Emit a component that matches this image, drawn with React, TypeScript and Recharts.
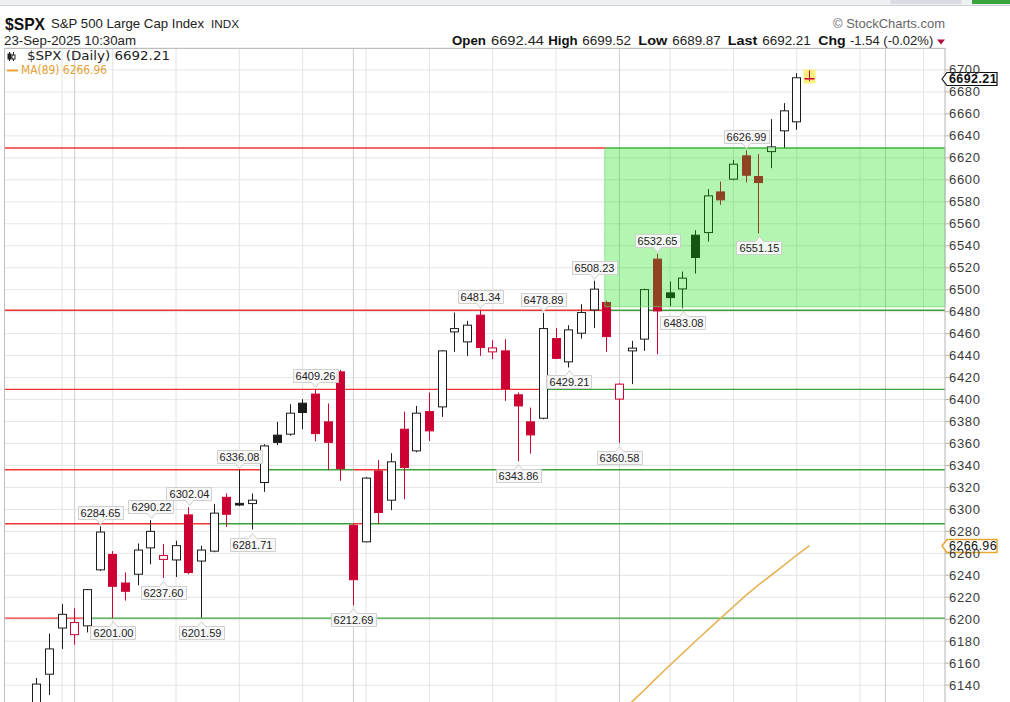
import React from 'react'
import {
  ComposedChart,
  Bar,
  Line,
  XAxis,
  YAxis,
  CartesianGrid,
  ReferenceLine,
  ReferenceArea,
  ReferenceDot,
} from 'recharts'

// trading days on the chart
const dates = [
  'Jun 24', 'Jun 25', 'Jun 26', 'Jun 27', 'Jun 30', 'Jul 1', 'Jul 2', 'Jul 3',
  'Jul 7', 'Jul 8', 'Jul 9', 'Jul 10', 'Jul 11', 'Jul 14', 'Jul 15', 'Jul 16', 'Jul 17', 'Jul 18',
  'Jul 21', 'Jul 22', 'Jul 23', 'Jul 24', 'Jul 25', 'Jul 28', 'Jul 29', 'Jul 30', 'Jul 31', 'Aug 1',
  'Aug 4', 'Aug 5', 'Aug 6', 'Aug 7', 'Aug 8', 'Aug 11', 'Aug 12', 'Aug 13', 'Aug 14', 'Aug 15',
  'Aug 18', 'Aug 19', 'Aug 20', 'Aug 21', 'Aug 22', 'Aug 25', 'Aug 26', 'Aug 27', 'Aug 28', 'Aug 29',
  'Sep 2', 'Sep 3', 'Sep 4', 'Sep 5', 'Sep 8', 'Sep 9', 'Sep 10', 'Sep 11', 'Sep 12',
  'Sep 15', 'Sep 16', 'Sep 17', 'Sep 18', 'Sep 19', 'Sep 22', 'Sep 23',
]
// empty slots to the right of the last bar
const futureDates = ['Sep 24', 'Sep 25', 'Sep 26', 'Sep 29', 'Sep 30', 'Oct 1', 'Oct 2', 'Oct 3', 'Oct 6', 'Oct 7', 'Oct 8']

const opens = [
  6061, 6104, 6112, 6150, 6192, 6186, 6194, 6245,
  6259, 6233, 6241, 6265, 6254.5, 6254, 6295, 6253, 6262, 6311,
  6305.5, 6305.3, 6324.5, 6367.6, 6368.5, 6396.7, 6405, 6379.7, 6425.2, 6285.6,
  6270.5, 6335, 6308.4, 6373, 6353.3, 6389, 6393.3, 6461.6, 6452.5, 6476.8,
  6443.4, 6444.3, 6404.3, 6379.7, 6383, 6455.5, 6434.3, 6460.4, 6481.6, 6488.3,
  6400.4, 6444.3, 6455, 6527.8, 6497.1, 6500.7, 6549.6, 6552, 6589,
  6600.6, 6621.8, 6603, 6625.7, 6644.6, 6652.8, 6692.44,
]
const highs = [
  6101, 6108, 6146.5, 6187, 6214, 6210, 6227.6, 6284.65,
  6262, 6242.5, 6269, 6290.22, 6268.5, 6271.5, 6302.04, 6267, 6305, 6314.5,
  6336.08, 6314.5, 6359.4, 6379.7, 6395.8, 6400.3, 6409.26, 6396.4, 6427, 6287,
  6329.5, 6344.8, 6351.2, 6389, 6394.2, 6406.4, 6445, 6479.2, 6471.6, 6481.34,
  6454, 6455, 6406.4, 6392.7, 6478.89, 6465, 6467.7, 6486.8, 6508.23, 6490,
  6415, 6453.4, 6501, 6532.65, 6507.4, 6516.5, 6554.2, 6591.5, 6598.4,
  6618.2, 6626.99, 6623.4, 6655.2, 6669.8, 6697.1, 6699.52,
]
const lows = [
  6059, 6080, 6107, 6131, 6173, 6177, 6188, 6244,
  6201.0, 6217, 6231, 6250, 6237.6, 6238.5, 6241, 6201.59, 6261, 6284,
  6303, 6281.71, 6316, 6358.5, 6367, 6373, 6362, 6336, 6326, 6212.69,
  6270, 6286.6, 6299.3, 6309.3, 6352, 6362.4, 6384.2, 6443.4, 6439.8, 6439.8,
  6436.8, 6398.8, 6343.86, 6350.8, 6382, 6436.8, 6429.21, 6455.5, 6465, 6443.4,
  6360.58, 6414, 6444.3, 6441.3, 6485, 6483.08, 6514.7, 6543.8, 6577.2,
  6599.5, 6597.5, 6551.15, 6610.6, 6628.8, 6645.5, 6689.87,
]
const closes = [
  6092.2, 6092.2, 6141, 6173, 6204.5, 6197, 6227, 6279.4,
  6230, 6225.5, 6263, 6280, 6258, 6267, 6242.5, 6263, 6296.6, 6295.6,
  6304, 6308.4, 6357.8, 6361, 6387.6, 6388.2, 6369, 6361, 6337.2, 6236,
  6328.5, 6297.2, 6343.3, 6338.1, 6387.6, 6371.5, 6444.3, 6464.6, 6467.7, 6447.3,
  6447, 6410, 6394.2, 6367.8, 6464.6, 6437.5, 6463.4, 6479.2, 6500.5, 6457.3,
  6414, 6446.8, 6500.1, 6480.7, 6492.8, 6510.5, 6529.3, 6585.4, 6581.8,
  6614.2, 6604.2, 6597.5, 6630, 6662.8, 6692.9, 6692.21,
]

// 89-day moving average (only the part that reaches the visible range)
const maDates = ['Aug 29', 'Sep 2', 'Sep 3', 'Sep 4', 'Sep 5', 'Sep 8', 'Sep 9', 'Sep 10', 'Sep 11', 'Sep 12', 'Sep 15', 'Sep 16', 'Sep 17', 'Sep 18', 'Sep 19', 'Sep 22', 'Sep 23']
const maValues = [6103, 6114, 6125, 6136, 6147.3, 6158.4, 6169.2, 6180, 6190.5, 6201, 6211.5, 6222, 6231.5, 6240.3, 6249.3, 6258.3, 6266.96]

// annotated highs and lows
const highLabelDates = ['Jul 3', 'Jul 10', 'Jul 15', 'Jul 21', 'Jul 29', 'Aug 15', 'Aug 22', 'Aug 28', 'Sep 5', 'Sep 16']
const lowLabelDates = ['Jul 7', 'Jul 11', 'Jul 16', 'Jul 22', 'Aug 1', 'Aug 20', 'Aug 26', 'Sep 2', 'Sep 9', 'Sep 17']

// hand-drawn levels; each starts red and flips colour at the listed dates
const levelValues = [6629, 6481.34, 6409.26, 6336.08, 6287, 6201]
const levelBreaks = [['Aug 29'], ['Aug 29'], ['Aug 22'], ['Jul 23', 'Aug 1', 'Aug 6'], ['Jul 17', 'Aug 1', 'Aug 4'], ['Jul 2']]

// green zone
const zoneStart = 'Aug 29'
const zoneLow = 6484.5
const zoneHigh = 6629

// weekly and monthly grid dates
const weekDates = ['Jun 30', 'Jul 7', 'Jul 14', 'Jul 21', 'Jul 28', 'Aug 4', 'Aug 11', 'Aug 18', 'Aug 25', 'Sep 8', 'Sep 15', 'Sep 22', 'Sep 29', 'Oct 6']
const monthDates = ['Jul 1', 'Aug 1', 'Sep 2', 'Oct 1']

const yTicks = [
  6100, 6120, 6140, 6160, 6180, 6200, 6220, 6240, 6260, 6280, 6300, 6320, 6340, 6360, 6380,
  6400, 6420, 6440, 6460, 6480, 6500, 6520, 6540, 6560, 6580, 6600, 6620, 6640, 6660, 6680, 6700,
]

const lastClose = 6692.21
const lastMa = 6266.96

const allDates = [...dates, ...futureDates]
const slot = (d: string) => allDates.indexOf(d)
const X_MIN = -0.5
const X_MAX = 73.7

const RED = '#cc0033'
const BLACK = '#1c1c1c'
const LINE_RED = '#f03434'
const LINE_GREEN = '#3aa23a'
const SANS = "'Liberation Sans', Arial, sans-serif"

const rows = dates.map((date, i) => ({
  x: i,
  date,
  open: opens[i],
  high: highs[i],
  low: lows[i],
  close: closes[i],
  prevClose: i > 0 ? closes[i - 1] : opens[i],
  ma: maDates.includes(date) ? maValues[maDates.indexOf(date)] : null,
  labelHigh: highLabelDates.includes(date),
  labelLow: lowLabelDates.includes(date),
  last: i === dates.length - 1,
}))

function Callout({ cx, tip, text, below }: { cx: number; tip: number; text: string; below: boolean }) {
  const w = 45
  const h = 13
  const bx = Math.round(cx - w / 2) + 0.5
  const nx = Math.round(cx) + 0.5
  const by = below ? Math.round(tip + 8) + 0.5 : Math.round(tip - 7 - h) + 0.5
  const d = below
    ? `M${bx},${by} H${nx - 4} L${nx},${by - 5} L${nx + 4},${by} H${bx + w} V${by + h} H${bx} Z`
    : `M${bx},${by} H${bx + w} V${by + h} H${nx + 4} L${nx},${by + h + 5} L${nx - 4},${by + h} H${bx} Z`
  return (
    <g>
      <path d={d} fill="#f7f7f7" fillOpacity={0.92} stroke="#cfcfcf" />
      <text x={nx} y={by + 10.5} textAnchor="middle" fontSize={11} fontFamily={SANS} fill="#222">
        {text}
      </text>
    </g>
  )
}

const highCallout = (p: any) =>
  p.payload && p.payload.labelHigh ? (
    <Callout key={p.key} cx={p.cx} tip={p.cy} text={p.payload.high.toFixed(2)} below={false} />
  ) : (
    <g key={p.key} />
  )

const lowCallout = (p: any) =>
  p.payload && p.payload.labelLow ? (
    <Callout key={p.key} cx={p.cx} tip={p.cy} text={p.payload.low.toFixed(2)} below />
  ) : (
    <g key={p.key} />
  )

function Candle(props: any) {
  const { x, y, width, height, payload } = props
  if (!payload) return null
  const top = Math.min(y, y + height)
  const span = Math.abs(height)
  const range = payload.high - payload.low
  const py = (v: number) => (range > 0 ? top + ((payload.high - v) / range) * span : top)

  const cx = x + width / 2
  const left = Math.round(cx - 4.5) + 0.5
  const wx = left + 4
  const up = payload.close >= payload.open
  const color = payload.close >= payload.prevClose ? BLACK : RED
  const bTop = py(Math.max(payload.open, payload.close))
  const bBot = py(Math.min(payload.open, payload.close))
  const bh = Math.max(1, bBot - bTop)

  return (
    <g>
      {payload.last && <rect x={left - 2} y={py(payload.high) - 1} width={12} height={14} fill="#f8f17e" />}
      <line x1={wx} x2={wx} y1={py(payload.high)} y2={bTop} stroke={color} strokeWidth={1} />
      <line x1={wx} x2={wx} y1={bTop + bh} y2={py(payload.low)} stroke={color} strokeWidth={1} />
      {payload.last ? (
        <line x1={left - 1} x2={left + 9} y1={bTop + 0.5} y2={bTop + 0.5} stroke={color} strokeWidth={1.5} />
      ) : (
        <rect x={left} y={bTop} width={8} height={bh} fill={up ? '#fff' : color} stroke={color} strokeWidth={1} />
      )}
    </g>
  )
}

function PriceTag({ cx, cy, text, stroke, bold }: any) {
  const x0 = cx - 3
  const h = 13
  const t = Math.round(cy - h / 2) + 0.5
  const d = `M${x0},${t + h / 2} L${x0 + 5},${t} H${x0 + 55} V${t + h} H${x0 + 5} Z`
  return (
    <g>
      <path d={d} fill="#fff" stroke={stroke} strokeWidth={bold ? 1.2 : 1.4} />
      <text x={x0 + 7} y={t + 10.5} fontSize={12.5} fontWeight={bold ? 700 : 400} fontFamily={SANS} fill="#111" letterSpacing={0.4}>
        {text}
      </text>
    </g>
  )
}

function AxisTick({ x, y, payload }: any) {
  return (
    <text x={x - 2} y={y + 4.5} fontSize={13} fontFamily={SANS} fill="#3a3a3a" letterSpacing={0.7}>
      {payload.value}
    </text>
  )
}

function Header() {
  const b = { fontFamily: SANS, fontWeight: 700, fontSize: 13, fill: '#111' } as const
  const r = { fontFamily: SANS, fontSize: 13, fill: '#222' } as const
  return (
    <svg width={1010} height={702} style={{ position: 'absolute', left: 0, top: 0, pointerEvents: 'none' }}>
      <rect x={0} y={0} width={1010} height={5} fill="#eef1f4" />
      <line x1={0} x2={1010} y1={5.5} y2={5.5} stroke="#c9d1d9" />
      <rect x={890} y={0} width={72} height={4} rx={2} fill="#d9dde2" />
      <rect x={972} y={0} width={38} height={4} fill="#3ba53b" />

      <text x={5} y={29.5} fontFamily={SANS} fontWeight={700} fontSize={17} fill="#111" textLength={40} lengthAdjust="spacingAndGlyphs">$SPX</text>
      <text x={51} y={28.3} {...r} textLength={153} lengthAdjust="spacingAndGlyphs">S&amp;P 500 Large Cap Index</text>
      <text x={211} y={28.3} fontFamily={SANS} fontSize={11} fill="#222" textLength={28} lengthAdjust="spacingAndGlyphs">INDX</text>
      <text x={4} y={44.8} {...r} fontSize={12.5} textLength={132} lengthAdjust="spacingAndGlyphs">23-Sep-2025 10:30am</text>
      <text x={833} y={28.3} fontFamily={SANS} fontSize={13} fill="#666" textLength={112} lengthAdjust="spacingAndGlyphs">© StockCharts.com</text>

      <text x={452} y={44.5} {...b} textLength={34} lengthAdjust="spacingAndGlyphs">Open</text>
      <text x={491} y={44.5} {...r} textLength={53} lengthAdjust="spacingAndGlyphs">6692.44</text>
      <text x={548.3} y={44.5} {...b} textLength={29.4} lengthAdjust="spacingAndGlyphs">High</text>
      <text x={582.3} y={44.5} {...r} textLength={48.7} lengthAdjust="spacingAndGlyphs">6699.52</text>
      <text x={638.3} y={44.5} {...b} textLength={29} lengthAdjust="spacingAndGlyphs">Low</text>
      <text x={672.3} y={44.5} {...r} textLength={48.4} lengthAdjust="spacingAndGlyphs">6689.87</text>
      <text x={727.7} y={44.5} {...b} textLength={29.6} lengthAdjust="spacingAndGlyphs">Last</text>
      <text x={762.3} y={44.5} {...r} textLength={48.4} lengthAdjust="spacingAndGlyphs">6692.21</text>
      <text x={818.3} y={44.5} {...b} textLength={27.4} lengthAdjust="spacingAndGlyphs">Chg</text>
      <text x={850} y={44.5} {...r} textLength={83.3} lengthAdjust="spacingAndGlyphs">-1.54 (-0.02%)</text>
      <path d="M937,39.5 L945,39.5 L941,44.5 Z" fill="#b0103c" />

      <path d="M4.5,702 V48.5 H945.5" fill="none" stroke="#bdbdbd" />

      <g stroke="#222" strokeWidth={1}>
        <line x1={9.5} x2={9.5} y1={52} y2={61} />
        <rect x={8} y={54} width={3} height={5} fill="#222" />
        <line x1={13.5} x2={13.5} y1={52} y2={61} />
        <rect x={12} y={55} width={3} height={4} fill="#fff" />
      </g>
      <text x={27} y={60} fontFamily="'DejaVu Sans', Verdana, sans-serif" fontSize={12.5} fill="#222" textLength={143} lengthAdjust="spacingAndGlyphs">$SPX (Daily) 6692.21</text>
      <line x1={7} x2={18} y1={70.5} y2={70.5} stroke="#e8a838" strokeWidth={2} />
      <text x={21} y={74} fontFamily="'DejaVu Sans', Verdana, sans-serif" fontSize={11.5} fill="#e3a234" textLength={86} lengthAdjust="spacingAndGlyphs">MA(89) 6266.96</text>
    </svg>
  )
}

export default function App() {
  return (
    <div style={{ position: 'relative', width: 1010, height: 702, overflow: 'hidden', background: '#fff' }}>
      <style>{'html,body{margin:0;padding:0;overflow:hidden;background:#fff}'}</style>
      <div style={{ position: 'absolute', left: 0, top: 0 }}>
        <ComposedChart width={1010} height={752} data={rows} margin={{ top: 48, right: 0, bottom: 2, left: 5 }}>
          <CartesianGrid vertical={false} stroke="#e5e5e5" />
          <XAxis type="number" dataKey="x" domain={[X_MIN, X_MAX]} hide allowDataOverflow />
          <YAxis
            orientation="right"
            type="number"
            domain={[6081, 6720]}
            ticks={yTicks}
            interval={0}
            width={65}
            allowDataOverflow
            axisLine={{ stroke: '#b5b5b5' }}
            tickLine={{ stroke: '#b5b5b5' }}
            tickSize={4}
            tick={<AxisTick />}
          />
          {weekDates.map((d) => (
            <ReferenceLine key={'w' + d} x={slot(d)} stroke="#e3e3e3" zIndex={-90} />
          ))}
          {monthDates.map((d) => (
            <ReferenceLine key={'m' + d} x={slot(d)} stroke="#cdcdcd" zIndex={-90} />
          ))}
          {levelValues.map((v, li) => {
            const edges = [X_MIN, ...levelBreaks[li].map(slot), X_MAX]
            return edges.slice(0, -1).map((from, si) => (
              <ReferenceLine
                key={`lv${li}-${si}`}
                segment={[{ x: from, y: v }, { x: edges[si + 1], y: v }]}
                stroke={si % 2 === 0 ? LINE_RED : LINE_GREEN}
                strokeWidth={1.4}
                zIndex={100}
              />
            ))
          })}
          <Bar
            dataKey={(d: any) => [d.low, d.high]}
            barSize={9}
            shape={(p: any) => <Candle {...p} />}
            isAnimationActive={false}
          />
          <Line dataKey="high" stroke="none" dot={highCallout} activeDot={false} isAnimationActive={false} zIndex={320} />
          <Line dataKey="low" stroke="none" dot={lowCallout} activeDot={false} isAnimationActive={false} zIndex={320} />
          <ReferenceArea
            x1={slot(zoneStart) - 0.15}
            x2={X_MAX}
            y1={zoneLow}
            y2={zoneHigh}
            fill="#00e000"
            fillOpacity={0.3}
            stroke="#6fd46f"
            strokeOpacity={0.7}
            zIndex={350}
          />
          <Line
            dataKey="ma"
            type="linear"
            stroke="#e6b458"
            strokeWidth={1.6}
            dot={false}
            activeDot={false}
            isAnimationActive={false}
          />
          <ReferenceDot
            x={X_MAX}
            y={lastMa}
            r={0}
            ifOverflow="visible"
            zIndex={600}
            shape={(p: any) => <PriceTag cx={p.cx} cy={p.cy} text={lastMa.toFixed(2)} stroke="#e6a630" bold={false} />}
          />
          <ReferenceDot
            x={X_MAX}
            y={lastClose}
            r={0}
            ifOverflow="visible"
            zIndex={600}
            shape={(p: any) => <PriceTag cx={p.cx} cy={p.cy} text={lastClose.toFixed(2)} stroke="#111" bold />}
          />
        </ComposedChart>
      </div>
      <Header />
    </div>
  )
}
